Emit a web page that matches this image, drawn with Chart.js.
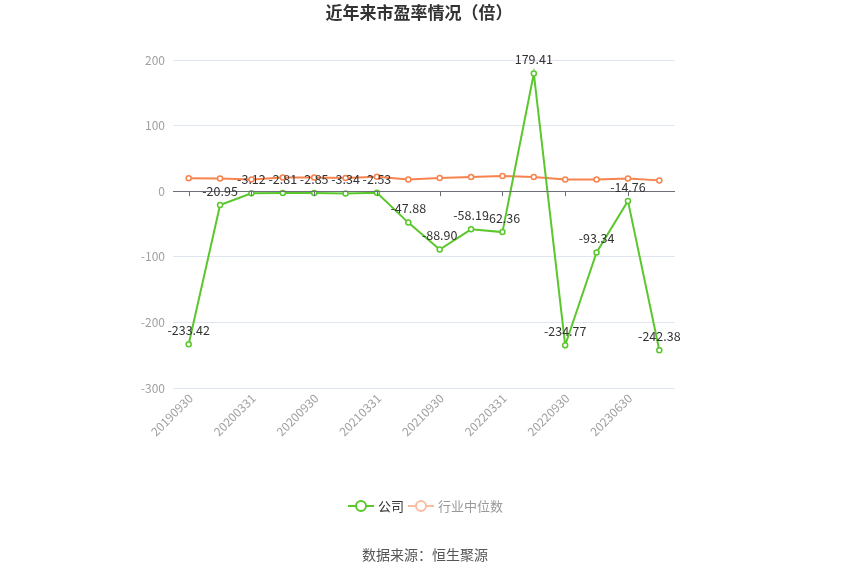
<!DOCTYPE html>
<html>
<head>
<meta charset="utf-8">
<script src="https://cdn.jsdelivr.net/npm/chart.js@4/dist/chart.umd.min.js"></script>
<style>
  html, body { margin: 0; padding: 0; background: #fff; }
  #wrap { width: 850px; height: 574px; }
</style>
</head>
<body>
<div id="wrap"><canvas id="peChart" width="850" height="574"></canvas></div>
<script>
// 报告期
const periods = ['20190930', '20191231', '20200331', '20200630', '20200930', '20201231',
  '20210331', '20210630', '20210930', '20211231', '20220331', '20220630',
  '20220930', '20230331', '20230630', '20230930'];
// 公司市盈率
const companyPE = [-233.42, -20.95, -3.12, -2.81, -2.85, -3.34, -2.53, -47.88,
  -88.90, -58.19, -62.36, 179.41, -234.77, -93.34, -14.76, -242.38];
// 行业中位数
const industryPE = [19.7, 19.2, 18, 20.7, 21, 20, 22, 18, 20, 21.7, 23, 21.7, 18, 18, 19.5, 16.5];
const yTicks = [200, 100, 0, -100, -200, -300];

const FONT = '"Noto Sans CJK SC", "Noto Sans", sans-serif';
const GREEN = '#5ac72c';
const ORANGE = '#f7834e';

// title, legend, source, zero axis, x labels and value labels
const decorPlugin = {
  id: 'decor',
  afterDraw(chart) {
    const ctx = chart.ctx;
    const x = chart.scales.x, y = chart.scales.y;
    ctx.save();

    // zero axis line with ticks
    const y0 = y.getPixelForValue(0);
    ctx.strokeStyle = '#6e7079';
    ctx.lineWidth = 1;
    ctx.beginPath();
    ctx.moveTo(chart.chartArea.left, Math.round(y0) + 0.5);
    ctx.lineTo(chart.chartArea.right, Math.round(y0) + 0.5);
    ctx.stroke();
    periods.forEach((p, i) => {
      if (i % 2 !== 0) return;
      const px = Math.round(x.getPixelForValue(i)) + 0.5;
      ctx.beginPath();
      ctx.moveTo(px, y0);
      ctx.lineTo(px, y0 + 5);
      ctx.stroke();
    });

    // x labels, rotated
    ctx.fillStyle = '#a0a0a0';
    ctx.font = '12px ' + FONT;
    ctx.textAlign = 'right';
    ctx.textBaseline = 'middle';
    periods.forEach((p, i) => {
      if (i % 2 !== 0) return;
      const px = x.getPixelForValue(i);
      ctx.save();
      ctx.translate(px + 2, chart.chartArea.bottom + 8);
      ctx.rotate(-Math.PI / 4);
      ctx.fillText(p, 0, 0);
      ctx.restore();
    });

    // title
    ctx.fillStyle = '#333';
    ctx.font = 'bold 17px ' + FONT;
    ctx.textAlign = 'center';
    ctx.textBaseline = 'middle';
    ctx.fillText('近年来市盈率情况（倍）', 419, 13);

    // value labels for company
    ctx.font = '12.5px ' + FONT;
    ctx.fillStyle = '#333';
    const meta = chart.getDatasetMeta(0);
    meta.data.forEach((pt, i) => {
      ctx.fillText(companyPE[i].toFixed(2), pt.x, pt.y - 14);
    });

    // legend
    const ly = 506;
    const drawItem = (cx, color, text, textColor) => {
      ctx.strokeStyle = color;
      ctx.lineWidth = 2;
      ctx.beginPath();
      ctx.moveTo(cx - 13, ly);
      ctx.lineTo(cx + 13, ly);
      ctx.stroke();
      ctx.beginPath();
      ctx.arc(cx, ly, 5, 0, Math.PI * 2);
      ctx.fillStyle = '#fff';
      ctx.fill();
      ctx.stroke();
      ctx.fillStyle = textColor;
      ctx.textAlign = 'left';
      ctx.font = '13px ' + FONT;
      ctx.fillText(text, cx + 17, ly);
    };
    drawItem(361, GREEN, '公司', '#333');
    drawItem(421, '#fbbda2', '行业中位数', '#999');

    // source
    ctx.textAlign = 'center';
    ctx.fillStyle = '#555';
    ctx.font = '14px ' + FONT;
    ctx.fillText('数据来源：恒生聚源', 425, 555);
    ctx.restore();
  }
};

new Chart(document.getElementById('peChart'), {
  type: 'line',
  data: {
    labels: periods,
    datasets: [{
      label: '公司',
      data: companyPE,
      borderColor: GREEN,
      backgroundColor: '#fff',
      borderWidth: 2,
      pointRadius: 2.5,
      pointBorderWidth: 1.5,
      pointBorderColor: GREEN,
      pointBackgroundColor: '#fff',
      tension: 0
    }, {
      label: '行业中位数',
      data: industryPE,
      borderColor: ORANGE,
      backgroundColor: '#fff',
      borderWidth: 2,
      pointRadius: 2.5,
      pointBorderWidth: 1.5,
      pointBorderColor: ORANGE,
      pointBackgroundColor: '#fff',
      tension: 0
    }]
  },
  options: {
    responsive: false,
    animation: false,
    devicePixelRatio: 1,
    layout: { padding: { left: 0, right: 175, top: 60, bottom: 186 } },
    plugins: {
      legend: { display: false },
      title: { display: false },
      tooltip: { enabled: false }
    },
    scales: {
      x: {
        offset: true,
        grid: { display: false, drawTicks: false },
        border: { display: false },
        afterFit(scale) { scale.height = 0; },
        ticks: { display: false }
      },
      y: {
        min: -300,
        max: 200,
        afterFit(scale) { scale.width = 173; },
        afterBuildTicks(scale) { scale.ticks = yTicks.map(v => ({ value: v })); },
        grid: { color: '#e0e6f1', drawTicks: false },
        border: { display: false },
        ticks: {
          padding: 8,
          color: '#a0a0a0',
          font: { family: FONT, size: 12 }
        }
      }
    }
  },
  plugins: [decorPlugin]
});
</script>
</body>
</html>
